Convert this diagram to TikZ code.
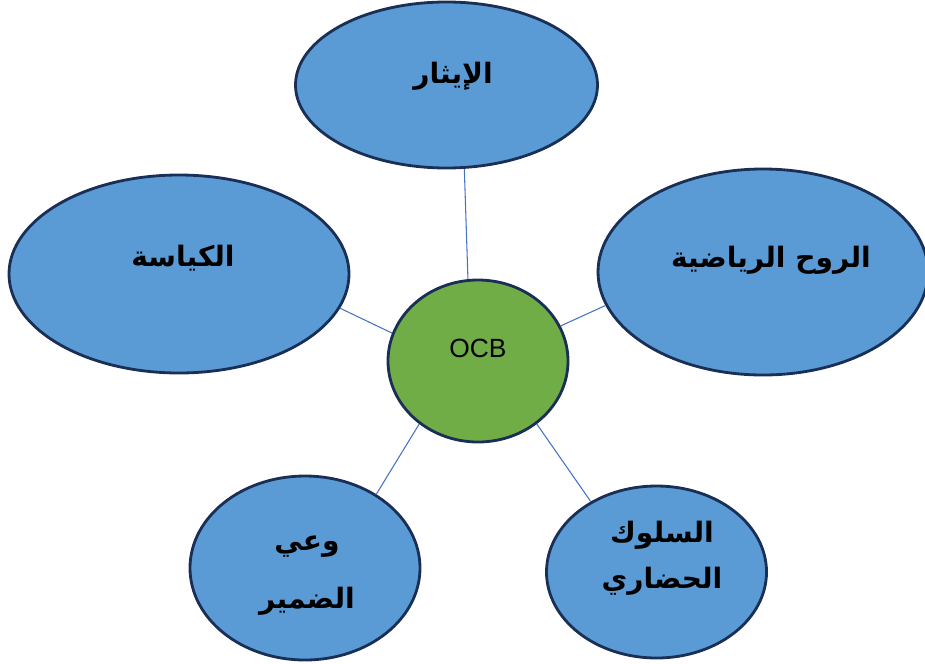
\documentclass[tikz,border=0pt]{standalone}
\usepackage{fontspec}
\setmainfont{Liberation Sans}
\newfontfamily\arabicfont[Script=Arabic]{DejaVu Sans}
\TeXXeTstate=1
\usetikzlibrary{shapes.geometric}
\definecolor{bluefill}{HTML}{5B9BD5}
\definecolor{greenfill}{HTML}{70AD47}
\definecolor{edgecol}{HTML}{1A2F55}
\definecolor{linkcol}{HTML}{4472C4}
\tikzset{
  bubble/.style={ellipse, draw=edgecol, fill=bluefill, line width=1.6pt, inner sep=0pt},
  hub/.style={ellipse, draw=edgecol, fill=greenfill, line width=1.6pt, inner sep=0pt},
  label/.style={font=\arabicfont\bfseries\fontsize{16}{26}\selectfont, align=center, text=black},
  link/.style={draw=linkcol, line width=0.6pt}
}
\begin{document}
\begin{tikzpicture}[x=0.02cm, y=-0.02cm]
\useasboundingbox (0,0) rectangle (925,663);
% ellipses
\node[bubble, minimum width=302*0.02cm, minimum height=166*0.02cm] (top) at (446.5,85) {};
\node[bubble, minimum width=340*0.02cm, minimum height=198*0.02cm] (left) at (179,274) {};
\node[bubble, minimum width=330*0.02cm, minimum height=206*0.02cm] (right) at (763,272) {};
\node[bubble, minimum width=230*0.02cm, minimum height=184*0.02cm] (bl) at (305,568) {};
\node[bubble, minimum width=220*0.02cm, minimum height=172*0.02cm] (br) at (656.5,572) {};
\node[hub, minimum width=180*0.02cm, minimum height=162*0.02cm] (hub) at (478,361) {};
% texts
\node[label] (ttop) at (453,76) {\beginR الإيثار\endR};
\node[label] (tleft) at (183,258) {\beginR الكياسة\endR};
\node[label] (tright) at (771,260) {\beginR الروح الرياضية\endR};
\node[label] (tbl) at (307,576) {\beginR وعي\endR\\[0.25cm]\beginR الضمير\endR};
\node[label] (tbr) at (662,558) {\beginR السلوك\endR\\\beginR الحضاري\endR};
\node[font=\fontsize{15}{18}\selectfont] (tocb) at (478,348) {OCB};
% connectors
\draw[link] (top.-78.8) -- (hub.97);
\draw[link] (left.-12) -- (hub.162);
\draw[link] (right.192.6) -- (hub.23.7);
\draw[link] (bl.46) -- (hub.227.5);
\draw[link] (br.133) -- (hub.-47.3);
\end{tikzpicture}
\end{document}
